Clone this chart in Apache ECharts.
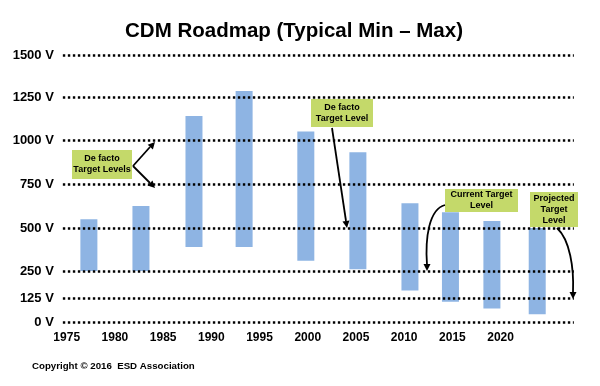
<!DOCTYPE html>
<html>
<head>
<meta charset="utf-8">
<script src="https://cdn.jsdelivr.net/npm/echarts@6/dist/echarts.min.js"></script>
<style>html,body{margin:0;padding:0;background:#fff;}#c{width:600px;height:386px;}</style>
</head>
<body>
<div id="c"></div>
<script>
// ---- data ----
var barYears = [1977.3, 1982.7, 1988.2, 1993.4, 1999.8, 2005.2, 2010.6, 2014.8, 2019.1, 2023.8];
var barMin   = [250, 250, 390, 390, 310, 260, 160, 105, 70, 40];
var barMax   = [550, 625, 1140, 1285, 1050, 930, 640, 590, 540, 500];
var xLabels  = [1975, 1980, 1985, 1990, 1995, 2000, 2005, 2010, 2015, 2020];
var yTicks   = [0, 125, 250, 500, 750, 1000, 1250, 1500];
var yTickLabels = ['0 V', '125 V', '250 V', '500 V', '750 V', '1000 V', '1250 V', '1500 V'];
// relative position of each tick on the (non-linear) vertical scale
var yTickPos = [0, 24, 51, 94, 138, 182, 225, 267];

function toAxis(v) {
  for (var i = 0; i < yTicks.length - 1; i++) {
    if (v <= yTicks[i + 1]) {
      var f = (v - yTicks[i]) / (yTicks[i + 1] - yTicks[i]);
      return yTickPos[i] + f * (yTickPos[i + 1] - yTickPos[i]);
    }
  }
  return yTickPos[yTickPos.length - 1];
}

var barData = barYears.map(function (y, i) { return [y, toAxis(barMin[i]), toAxis(barMax[i])]; });

var gridStart = 1974.6, gridEnd = 2027.6;
var gridLines = yTicks.map(function (t, i) {
  return [{ coord: [gridStart, yTickPos[i]], label: { formatter: yTickLabels[i] } },
          { coord: [gridEnd, yTickPos[i]] }];
});

function arrowHead(tx, ty, dx, dy) {
  var L = Math.sqrt(dx * dx + dy * dy); var ux = dx / L, uy = dy / L;
  var len = 7, w = 3.5;
  var bx = tx - ux * len, by = ty - uy * len;
  return { type: 'polygon', shape: { points: [[tx, ty], [bx - uy * w, by + ux * w], [bx + uy * w, by - ux * w]] }, style: { fill: '#000' }, z: 100 };
}
function box(x, y, w, h, text) {
  return [
    { type: 'rect', shape: { x: x, y: y, width: w, height: h }, style: { fill: '#C4D96A' }, z: 90 },
    { type: 'text', x: x + w / 2, y: y + h / 2, style: { text: text, fill: '#000', font: 'bold 9px "Liberation Sans", Arial, sans-serif', align: 'center', verticalAlign: 'middle', lineHeight: 11 }, z: 95 }
  ];
}
var ls = { stroke: '#000', lineWidth: 1.8, fill: null };
var graphics = [].concat(
  box(72, 150, 60, 29, 'De facto\nTarget Levels'),
  box(311, 99, 62, 28, 'De facto\nTarget Level'),
  box(445, 189, 73, 23, 'Current Target\nLevel'),
  box(530, 192, 48, 35, 'Projected\nTarget\nLevel'),
  [
    { type: 'line', shape: { x1: 133, y1: 166, x2: 150, y2: 147 }, style: ls, z: 100 },
    arrowHead(155, 142, 21, -23),
    { type: 'line', shape: { x1: 133, y1: 166, x2: 150, y2: 183 }, style: ls, z: 100 },
    arrowHead(155, 188, 21, 21),
    { type: 'line', shape: { x1: 332, y1: 128, x2: 346, y2: 221 }, style: ls, z: 100 },
    arrowHead(347, 228, 15, 99),
    { type: 'bezierCurve', shape: { x1: 445, y1: 205, cpx1: 429, cpy1: 209, cpx2: 425, cpy2: 238, x2: 427, y2: 265 }, style: ls, z: 100 },
    arrowHead(427, 271, 0, 1),
    { type: 'bezierCurve', shape: { x1: 557, y1: 228, cpx1: 570, cpy1: 240, cpx2: 574, cpy2: 268, x2: 573, y2: 292 }, style: ls, z: 100 },
    arrowHead(573, 299, 0, 1),
    { type: 'text', x: 32, y: 366, style: { text: 'Copyright \u00a9 2016  ESD Association', fill: '#000', font: 'bold 9.7px "Liberation Sans", Arial, sans-serif', verticalAlign: 'middle' } }
  ]
);

var chart = echarts.init(document.getElementById('c'), null, { renderer: 'canvas' });
chart.setOption({
  animation: false,
  title: {
    text: 'CDM Roadmap (Typical Min \u2013 Max)', left: 289, top: 16, textAlign: 'center',
    textStyle: { fontFamily: '"Liberation Sans", Arial, sans-serif', fontWeight: 'bold', fontSize: 20.5, color: '#000' }
  },
  grid: { left: 18.5, right: 0, top: 55, bottom: 64 },
  xAxis: {
    type: 'value', min: 1970, max: 2030, interval: 5,
    axisLine: { show: false }, axisTick: { show: false }, splitLine: { show: false },
    axisLabel: {
      margin: 10, color: '#000', fontWeight: 'bold', fontSize: 12, fontFamily: '"Liberation Sans", Arial, sans-serif',
      formatter: function (v) { return xLabels.indexOf(v) >= 0 ? String(v) : ''; }
    }
  },
  yAxis: {
    type: 'value', min: 0, max: 267,
    axisLine: { show: false }, axisTick: { show: false }, splitLine: { show: false }, axisLabel: { show: false }
  },
  series: [{
    type: 'custom',
    data: barData,
    renderItem: function (params, api) {
      var x = api.value(0);
      var p1 = api.coord([x, api.value(2)]);
      var p0 = api.coord([x, api.value(1)]);
      var w = 17;
      return { type: 'rect', shape: { x: p1[0] - w / 2, y: p1[1], width: w, height: p0[1] - p1[1] }, style: { fill: '#8EB4E3' } };
    },
    z: 2,
    markLine: {
      silent: true, symbol: ['none', 'none'], animation: false, z: 5,
      lineStyle: { color: '#000', width: 2.6, type: [2.4, 2.6] },
      label: { show: true, position: 'start', distance: 9, color: '#000', fontWeight: 'bold', fontSize: 13, fontFamily: '"Liberation Sans", Arial, sans-serif' },
      emphasis: { disabled: true },
      data: gridLines
    }
  }],
  graphic: graphics
});
</script>
</body>
</html>
